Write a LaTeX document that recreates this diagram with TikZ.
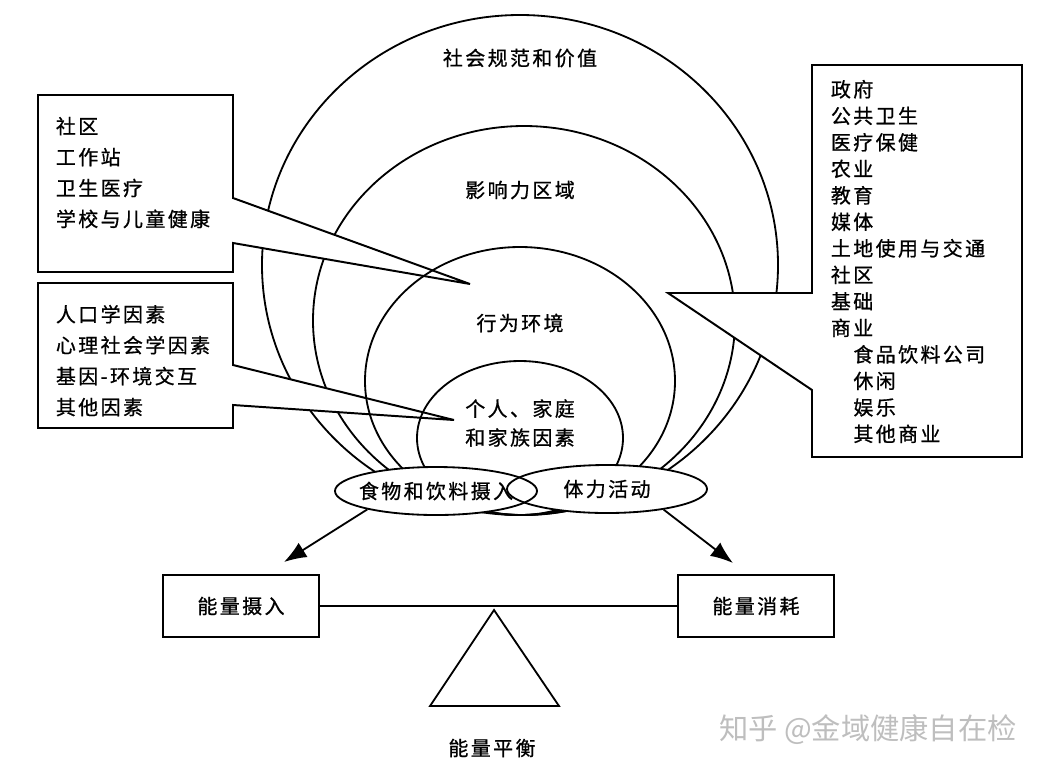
\documentclass[tikz,border=0pt]{standalone}
\usepackage{fontspec}
\setmainfont{Noto Sans CJK SC}[LetterSpace=12, FakeBold=0.8]
\newfontfamily\markfont{Noto Sans CJK SC}
\usetikzlibrary{arrows.meta, shapes.geometric}
\definecolor{markgray}{RGB}{190,190,190}

\begin{document}
\begin{tikzpicture}[x=0.025cm, y=-0.025cm, line width=1.3pt,
  lbl/.style={inner sep=0pt, font=\fontsize{14.2pt}{18pt}\selectfont},
  listbox/.style={inner sep=0pt, anchor=north west, align=left, font=\fontsize{14.2pt}{22pt}\selectfont},
  ebox/.style={draw, line width=1.4pt, minimum width=3.9cm, minimum height=1.55cm, font=\fontsize{14.2pt}{18pt}\selectfont},
  oval/.style={ellipse, draw, inner sep=0pt, minimum height=1.2cm, font=\fontsize{14.2pt}{18pt}\selectfont},
  arr/.style={-{Latex[length=16pt, width=12pt]}}]
  \useasboundingbox (0,0) rectangle (1052,772);
  \fill[white] (0,0) rectangle (1052,772);

  % outer rings
  \draw (520,265) ellipse [x radius=258, y radius=250];
  \draw (524,320.5) ellipse [x radius=211, y radius=194.5];

  % callout boxes
  \draw[fill=white, line width=1.4pt] (38,95) -- (233,95) -- (233,198) -- (470,284) -- (233,243) -- (233,272) -- (38,272) -- cycle;
  \draw[fill=white, line width=1.4pt] (38,283) -- (233,283) -- (233,365) -- (454,420) -- (233,405) -- (233,428) -- (38,428) -- cycle;
  \draw[fill=white, line width=1.4pt] (812,65) -- (1022,65) -- (1022,457) -- (812,457) -- (812,390) -- (668,293) -- (812,293) -- cycle;

  % inner rings
  \draw (520,381) ellipse [x radius=155, y radius=134];
  \draw (520,438) ellipse [x radius=103, y radius=77];

  \node[lbl] (norms) at (520,58) {社会规范和价值};
  \node[lbl] (sphere) at (520,190) {影响力区域};
  \node[lbl] (setting) at (520,323) {行为环境};
  \node[lbl, align=center, font=\fontsize{14.2pt}{20.6pt}\selectfont] (family) at (520,423) {个人、家庭\\和家族因素};

  \node[listbox] (places) at (55,116) {社区\\工作站\\卫生医疗\\学校与儿童健康};
  \node[listbox] (factors) at (55,304) {人口学因素\\心理社会学因素\\基因-环境交互\\其他因素};
  \node[listbox, font=\fontsize{14.2pt}{18.85pt}\selectfont] (sectors) at (830,79) {政府\\公共卫生\\医疗保健\\农业\\教育\\媒体\\土地使用与交通\\社区\\基础\\商业\\\hspace*{16pt}食品饮料公司\\\hspace*{16pt}休闲\\\hspace*{16pt}娱乐\\\hspace*{16pt}其他商业};

  % intake and activity
  \fill[white] (436,491) ellipse [x radius=101, y radius=24];
  \fill[white] (607,489) ellipse [x radius=100, y radius=24];
  \node[oval, minimum width=5.05cm] (food) at (436,491) {\makebox[0pt]{食物和饮料摄入}};
  \node[oval, minimum width=5cm] (activity) at (607,489) {\makebox[0pt]{体力活动}};

  \node[ebox] (intake) at (241,606) {能量摄入};
  \node[ebox] (expend) at (756,606) {能量消耗};
  \coordinate (intaketip) at (284,562);
  \coordinate (expendtip) at (733,563);
  \draw[arr] (food.195) -- (intaketip);
  \draw[arr] (activity.-20) -- (expendtip);

  % balance
  \draw (intake) -- (expend);
  \draw (494,610) -- (559,706) -- (430,706) -- cycle;
  \node[lbl] (balance) at (492,748) {能量平衡};

  \node[inner sep=0pt, text=markgray, font=\markfont\fontsize{20.8pt}{24pt}\selectfont] (zhihu) at (868,730) {知乎 @金域健康自在检};
\end{tikzpicture}
\end{document}
